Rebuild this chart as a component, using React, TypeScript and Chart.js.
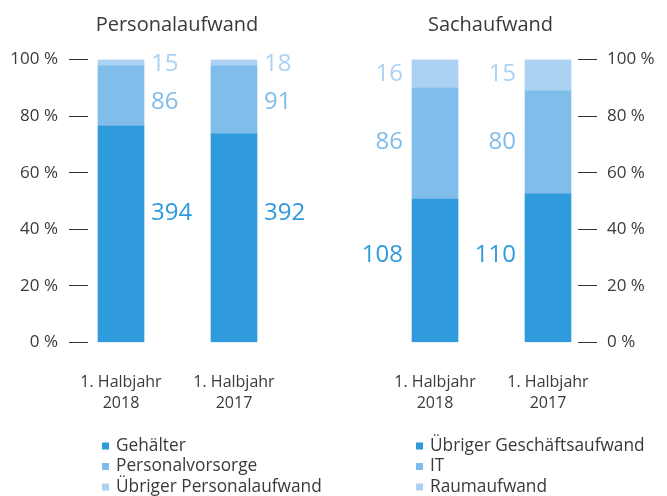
import React, { useEffect, useRef } from 'react';
import { Chart, registerables } from 'chart.js';

Chart.register(...registerables);

// ---------- data ----------
const categories = [['1. Halbjahr', '2018'], ['1. Halbjahr', '2017']];

// Personalaufwand (shares of bar in %) and printed values
const personalSeries = ['Gehälter', 'Personalvorsorge', 'Übriger Personalaufwand'];
const gehaelterShare = [76.5, 73.7];
const vorsorgeShare = [21.3, 24.1];
const uebrigPersShare = [2.2, 2.2];
const gehaelterValues = [394, 392];
const vorsorgeValues = [86, 91];
const uebrigPersValues = [15, 18];
const personalLabelLevels = [45.7, 84.9, 98.5];

// Sachaufwand
const sachSeries = ['Übriger Geschäftsaufwand', 'IT', 'Raumaufwand'];
const uebrigGeschShare = [50.7, 52.5];
const itShare = [39.2, 36.4];
const raumShare = [10.1, 11.1];
const uebrigGeschValues = [108, 110];
const itValues = [86, 80];
const raumValues = [16, 15];
const sachLabelLevels = [30.9, 70.7, 94.9];

const yTickValues = [0, 20, 40, 60, 80, 100];

// ---------- styles ----------
const COLORS = ['#2f9bdc', '#80bdea', '#abd2f2'];
const FONT = "'Open Sans', sans-serif";
const TEXT = '#3a3a3a';

const valueLabelsPlugin = {
  id: 'valueLabels',
  afterDatasetsDraw(chart: any, _args: any, opts: any) {
    const { ctx } = chart;
    const yScale = chart.scales.y;
    ctx.save();
    ctx.font = `24px ${FONT}`;
    ctx.textBaseline = 'middle';
    chart.data.datasets.forEach((_ds: any, di: number) => {
      const meta = chart.getDatasetMeta(di);
      meta.data.forEach((bar: any, i: number) => {
        const { x, width } = bar.getProps(['x', 'width'], true);
        const text = String(opts.values[di][i]);
        const ty = yScale.getPixelForValue(opts.levels[di]);
        ctx.fillStyle = COLORS[di];
        if (opts.side === 'right') {
          ctx.textAlign = 'left';
          ctx.fillText(text, x + width / 2 + 7, ty);
        } else {
          ctx.textAlign = 'right';
          ctx.fillText(text, x - width / 2 - 9, ty);
        }
      });
    });
    ctx.restore();
  },
};

const customLegendPlugin = {
  id: 'customLegend',
  afterDraw(chart: any, _args: any, opts: any) {
    const { ctx, chartArea } = chart;
    ctx.save();
    ctx.font = `17.3px ${FONT}`;
    ctx.textBaseline = 'middle';
    ctx.textAlign = 'left';
    chart.data.datasets.forEach((ds: any, di: number) => {
      const cy = chartArea.bottom + opts.firstOffset + di * opts.rowGap;
      ctx.fillStyle = ds.backgroundColor;
      ctx.fillRect(opts.boxX, cy - 3.5, 7, 7);
      ctx.fillStyle = TEXT;
      ctx.fillText(ds.label, opts.textX, cy);
    });
    ctx.restore();
  },
};

type PanelProps = {
  title: string;
  series: string[];
  shares: number[][];
  values: number[][];
  levels: number[];
  axisSide: 'left' | 'right';
  left: number;
  width: number;
};

function Panel({ title, series, shares, values, levels, axisSide, left, width }: PanelProps) {
  const ref = useRef<HTMLCanvasElement | null>(null);

  useEffect(() => {
    if (!ref.current) return;
    const axisLeft = axisSide === 'left';
    const chart = new Chart(ref.current, {
      type: 'bar',
      data: {
        datasets: series.map((name, di) => ({
          label: name,
          data: shares[di].map((v, i) => ({ x: i, y: v })),
          backgroundColor: COLORS[di],
          borderWidth: 0,
          barThickness: 46,
        })),
      },
      options: {
        responsive: false,
        animation: false,
        events: [],
        layout: { padding: { top: 0, bottom: 81.5, left: 0, right: 0 } },
        scales: {
          x: {
            type: 'linear',
            stacked: true,
            offset: false,
            min: axisLeft ? -0.292 : -1.071,
            max: axisLeft ? 2.062 : 1.2655,
            grid: { display: false, drawTicks: false, offset: false },
            border: { display: false },
            afterFit: (s: any) => {
              s.height = 72;
            },
            afterBuildTicks: (s: any) => {
              s.ticks = categories.map((_c, i) => ({ value: i }));
            },
            ticks: {
              autoSkip: false,
              maxRotation: 0,
              minRotation: 0,
              padding: 30,
              color: TEXT,
              font: { family: FONT, size: 16, lineHeight: 1.3 },
              callback: (v: any) =>
                Number.isInteger(v) && categories[v] ? categories[v] : '',
            },
          },
          y: {
            type: 'linear',
            stacked: true,
            position: axisSide,
            min: 0,
            max: 100,
            afterFit: (s: any) => {
              s.width = axisLeft ? 88 : 89;
            },
            afterBuildTicks: (s: any) => {
              s.ticks = yTickValues.map((v) => ({ value: v }));
            },
            grid: {
              drawOnChartArea: false,
              drawTicks: true,
              tickLength: 19,
              color: '#333333',
              lineWidth: 1,
            },
            border: { display: false },
            ticks: {
              padding: axisLeft ? 11 : 10,
              color: TEXT,
              font: { family: FONT, size: 17 },
              callback: (v: any) => `${v} %`,
            },
          },
        },
        plugins: {
          legend: { display: false },
          tooltip: { enabled: false },
          title: {
            display: true,
            text: title,
            color: TEXT,
            font: { family: FONT, size: 20, weight: 'normal', lineHeight: 1.2 },
            padding: { top: 13, bottom: 22.5 },
          },
          valueLabels: { values, levels, side: axisLeft ? 'right' : 'left' },
          customLegend: { firstOffset: 103.5, rowGap: 20.5, boxX: 102, textX: 116 },
        } as any,
      },
      plugins: [valueLabelsPlugin, customLegendPlugin],
    } as any);
    return () => chart.destroy();
  }, []);

  return (
    <canvas
      ref={ref}
      width={width}
      height={496}
      style={{ position: 'absolute', left, top: 0, width, height: 496 }}
    />
  );
}

export default function App() {
  return (
    <div
      style={{
        position: 'absolute',
        left: 0,
        top: 0,
        width: 667,
        height: 496,
        background: '#ffffff',
        overflow: 'hidden',
      }}
    >
      <Panel
        title="Personalaufwand"
        series={personalSeries}
        shares={[gehaelterShare, vorsorgeShare, uebrigPersShare]}
        values={[gehaelterValues, vorsorgeValues, uebrigPersValues]}
        levels={personalLabelLevels}
        axisSide="left"
        left={0}
        width={354}
      />
      <Panel
        title="Sachaufwand"
        series={sachSeries}
        shares={[uebrigGeschShare, itShare, raumShare]}
        values={[uebrigGeschValues, itValues, raumValues]}
        levels={sachLabelLevels}
        axisSide="right"
        left={314}
        width={353}
      />
    </div>
  );
}
